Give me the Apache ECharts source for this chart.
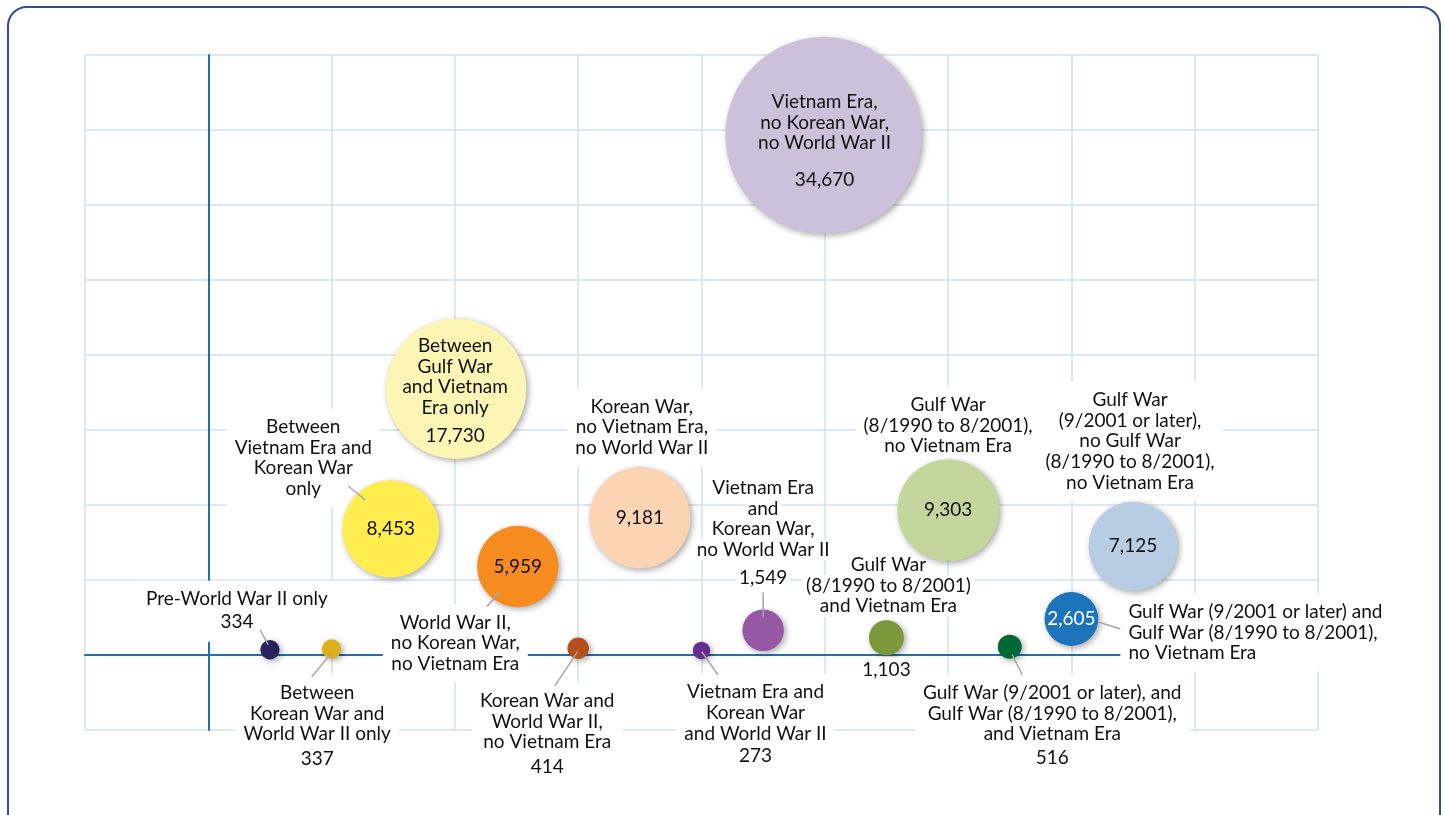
<!DOCTYPE html>
<html>
<head>
<meta charset="utf-8">
<script src="https://cdn.jsdelivr.net/npm/echarts@6/dist/echarts.min.js"></script>
<style>
html, body { margin: 0; padding: 0; width: 1445px; height: 815px; overflow: hidden; background: #ffffff; }
#frame { position: absolute; left: 7px; top: 6px; width: 1434px; height: 840px; box-sizing: border-box;
         border: 2.5px solid #2f4c9b; border-radius: 20px; }
#chart { position: absolute; left: 0; top: 0; width: 1445px; height: 815px; }
</style>
</head>
<body>
<div id="frame"></div>
<div id="chart"></div>
<script>
// ---------------- data ----------------
const categories = [
  'Pre-World War II only',
  'Between\nKorean War and\nWorld War II only',
  'World War II,\nno Korean War,\nno Vietnam Era',
  'Korean War and\nWorld War II,\nno Vietnam Era',
  'Vietnam Era and\nKorean War\nand World War II',
  'Vietnam Era\nand\nKorean War,\nno World War II',
  'Gulf War\n(8/1990 to 8/2001)\nand Vietnam Era',
  'Gulf War (9/2001 or later), and\nGulf War (8/1990 to 8/2001),\nand Vietnam Era',
  'Gulf War (9/2001 or later) and\nGulf War (8/1990 to 8/2001),\nno Vietnam Era',
  'Gulf War\n(9/2001 or later),\nno Gulf War\n(8/1990 to 8/2001),\nno Vietnam Era',
  'Gulf War\n(8/1990 to 8/2001),\nno Vietnam Era',
  'Korean War,\nno Vietnam Era,\nno World War II',
  'Between\nVietnam Era and\nKorean War\nonly',
  'Between\nGulf War\nand Vietnam\nEra only',
  'Vietnam Era,\nno Korean War,\nno World War II'
];
const veterans = [334, 337, 5959, 414, 273, 1549, 1103, 516, 2605, 7125, 9303, 9181, 8453, 17730, 34670];
const xPos = [0.5, 1.0, 2.51, 3.0, 4.0, 4.5, 5.5, 6.5, 7.0, 7.5, 6.0, 3.5, 1.48, 2.01, 4.99];
const yPos = [0.07, 0.08, 1.18, 0.09, 0.06, 0.33, 0.23, 0.11, 0.48, 1.45, 1.93, 1.83, 1.68, 3.55, 6.93];
const xTicks = { min: -1, max: 9, interval: 1 };
const yTicks = { min: -1, max: 8, interval: 1 };

// ---------------- styles ----------------
const colors = ['#29235c', '#dcb01d', '#f68b1f', '#b4501c', '#662d91', '#9657a5', '#7b983a', '#006837',
                '#1d74bb', '#b8cce4', '#c3d69b', '#fbd4b4', '#ffed4f', '#fcf5b3', '#ccc0da'];
const FONT = 'Lato, "Open Sans", sans-serif';
const FS = 19;
const TXT = '#111111';
const SIZE_K = 1.054;          // bubble diameter per sqrt(value)

// outside labels (offset of the text block from the bubble centre, px)
const outsideCfg = [
  { dx: -33, dy: -38.5, gap: 'g24', val: true },
  { dx: -14.4, dy: 79, gap: 'g29', val: true },
  { dx: -62.5, dy: 76.8 },
  { dx: -31, dy: 87.7, gap: 'g29', val: true },
  { dx: 54, dy: 74.6, gap: 'g24', val: true },
  { dx: 0, dy: -94, gap: 'g34', val: true, lineBg: true },
  { dx: 2, dy: -52, lineBg: true },
  { dx: 42.5, dy: 80.6, gap: 'g27', val: true },
  { dx: 49, dy: 13.5, left: true },
  { dx: -3, dy: -105 },
  { dx: 0, dy: -84.5 },
  { dx: 2, dy: -90.5 },
  { dx: -87.5, dy: -71 },
  null,
  null
];
// leader lines: start (label side) and end (inside bubble), offsets from the bubble centre, px
const leaderCfg = [
  { s: [-10, -20], e: [-1.7, -5] },
  { s: [-20, 28], e: [-1, 5] },
  { s: [-31, 40], e: [-17.5, 25.2] },
  { s: [-23.3, 37.7], e: [-0.6, 3.4] },
  { s: [16.3, 24.3], e: [0.3, 1.3] },
  { s: [0, -38], e: [0, -13] },
  null,
  { s: [12.5, 28], e: [2.5, 8] },
  { s: [49, 10], e: [27, 3] },
  null, null, null,
  { s: [-42.5, -43], e: [-25.5, -29] },
  null, null
];
// labels drawn on/at the bubble itself
const ownCfg = [
  null, null, {}, null, null, null, { dy: 32, bg: true }, null, { color: '#ffffff' }, {}, {}, {}, {},
  { name: true, gap: 'g34', dx: -1, dy: 5.5 },
  { name: true, gap: 'g53', dx: 1, dy: 13.5 }
];

function tok(lh, color, bg) {
  const t = { fontFamily: FONT, fontSize: FS, lineHeight: lh, color: color || TXT };
  if (bg) { t.backgroundColor = '#ffffff'; t.padding = [1, 3]; }
  return t;
}
const rich = {
  n: tok(20.6), g24: tok(24.3), g27: tok(27.6), g29: tok(29), g34: tok(34.5), g53: tok(52.7),
  w: tok(20.6, '#ffffff'),
  nb: tok(20.6, null, true), g34b: tok(34.5, null, true)
};

function fmt(v) { return v.toLocaleString('en-US'); }
function richText(name, valueStr, gap, style) {
  const lines = [];
  if (name) name.split('\n').forEach(s => lines.push('{' + (style || 'n') + '|' + s + '}'));
  if (valueStr) lines.push('{' + (name ? gap : (style || 'n')) + '|' + valueStr + '}');
  return lines.join('\n');
}

const points = veterans.map((v, i) => [xPos[i], yPos[i], v]);

const bubbleData = points.map((p, i) => {
  const c = ownCfg[i];
  const item = { value: p, itemStyle: { color: colors[i] } };
  item.label = c ? {
    show: true, offset: [c.dx || 0, c.dy || 0],
    backgroundColor: c.bg ? '#ffffff' : 'transparent', padding: c.bg ? [2, 6] : 0
  } : { show: false };
  return item;
});
const bubbleText = points.map((p, i) => {
  const c = ownCfg[i];
  if (!c) return '';
  return richText(c.name ? categories[i] : '', fmt(veterans[i]), c.gap, c.color ? 'w' : 'n');
});

const labelData = points.map((p, i) => {
  const c = outsideCfg[i];
  const item = { value: p };
  if (c) {
    item.label = {
      show: true, offset: [c.dx, c.dy], align: c.left ? 'left' : 'center',
      backgroundColor: c.lineBg ? 'transparent' : '#ffffff',
      padding: c.lineBg ? 0 : [8, 8]
    };
  } else {
    item.label = { show: false };
  }
  return item;
});
const labelText = points.map((p, i) => {
  const c = outsideCfg[i];
  if (!c) return '';
  if (c.lineBg) return richText(categories[i], c.val ? fmt(veterans[i]) : '', c.gap ? c.gap + 'b' : 'nb', 'nb');
  return richText(categories[i], c.val ? fmt(veterans[i]) : '', c.gap);
});

const gridLine = { color: '#d3e1f0', width: 1.5 };
const axisLine = { color: '#1f6fb9', width: 2 };

const option = {
  animation: false,
  backgroundColor: 'transparent',
  grid: { left: 85, right: 127, top: 55, bottom: 85, containLabel: false, outerBoundsMode: 'none' },
  xAxis: {
    type: 'value', min: xTicks.min, max: xTicks.max, interval: xTicks.interval,
    axisLine: { show: true, onZero: true, lineStyle: axisLine },
    axisTick: { show: false }, axisLabel: { show: false },
    splitLine: { show: true, lineStyle: gridLine }
  },
  yAxis: {
    type: 'value', min: yTicks.min, max: yTicks.max, interval: yTicks.interval,
    axisLine: { show: true, onZero: true, lineStyle: axisLine },
    axisTick: { show: false }, axisLabel: { show: false },
    splitLine: { show: true, lineStyle: gridLine }
  },
  series: [
    {
      name: 'labels', type: 'scatter', z: 2, silent: true, symbol: 'circle',
      symbolSize: d => SIZE_K * Math.sqrt(d[2]),
      itemStyle: { color: 'rgba(0,0,0,0)', opacity: 1 },
      label: {
        show: true, position: 'inside',
        formatter: p => labelText[p.dataIndex],
        rich: rich
      },
      emphasis: { disabled: true },
      data: labelData
    },
    {
      name: 'bubbles', type: 'scatter', z: 3, silent: true, symbol: 'circle',
      symbolSize: d => SIZE_K * Math.sqrt(d[2]),
      itemStyle: {
        opacity: 1,
        shadowBlur: 6, shadowColor: 'rgba(0,0,0,0.35)', shadowOffsetX: 2, shadowOffsetY: 2
      },
      label: {
        show: true, position: 'inside',
        formatter: p => bubbleText[p.dataIndex],
        rich: rich
      },
      emphasis: { disabled: true },
      data: bubbleData
    },
    {
      name: 'leaders', type: 'custom', z: 4, silent: true, clip: false,
      encode: { x: 0, y: 1 },
      renderItem: function (params, api) {
        const cfg = leaderCfg[params.dataIndex];
        if (!cfg) return null;
        const c = api.coord([api.value(0), api.value(1)]);
        return {
          type: 'line',
          shape: { x1: c[0] + cfg.s[0], y1: c[1] + cfg.s[1], x2: c[0] + cfg.e[0], y2: c[1] + cfg.e[1] },
          style: { stroke: '#a6a6a6', lineWidth: 1.5 }
        };
      },
      data: points
    }
  ]
};

const chart = echarts.init(document.getElementById('chart'), null, { renderer: 'canvas' });
chart.setOption(option);
</script>
</body>
</html>
